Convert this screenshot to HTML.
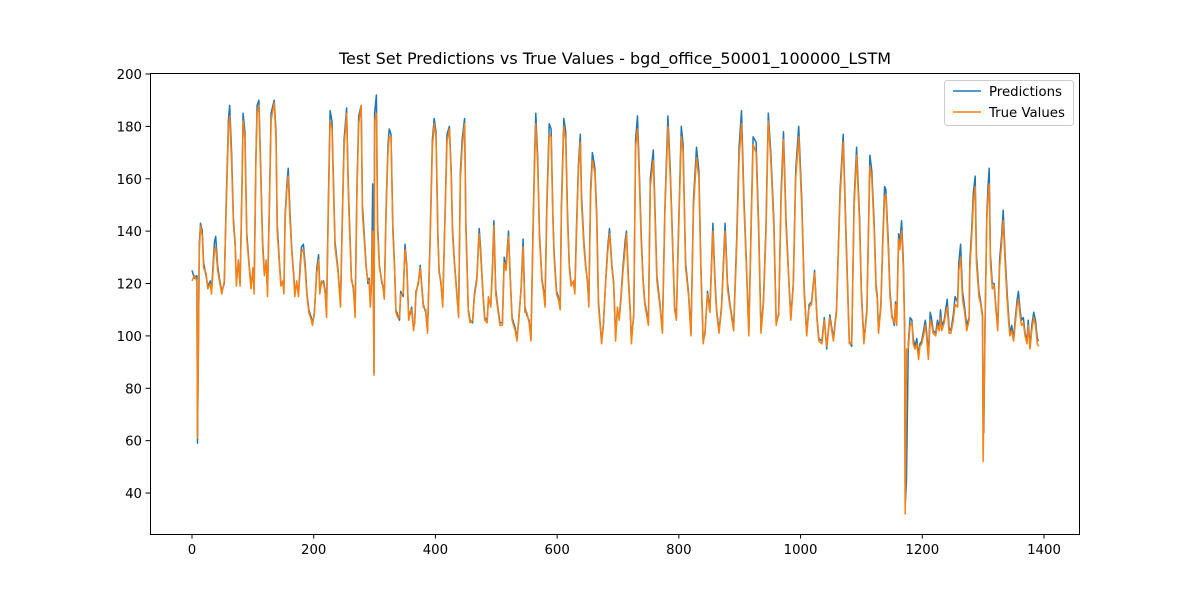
<!DOCTYPE html>
<html><head><meta charset="utf-8">
<style>
body{margin:0;background:#fff;font-family:"DejaVu Sans",sans-serif;}
svg text{font-family:"DejaVu Sans","Liberation Sans",sans-serif;}
</style></head>
<body>
<svg id="chart" width="1200" height="600" xmlns="http://www.w3.org/2000/svg">
<rect x="0" y="0" width="1200" height="600" fill="#fff"/>
<text x="615" y="64" font-size="16" text-anchor="middle" fill="#000">Test Set Predictions vs True Values - bgd_office_50001_100000_LSTM</text>
<g id="axes"></g>
<g id="series"></g>
<rect x="150.5" y="73.5" width="929" height="461" fill="none" stroke="#000" stroke-width="1"/>
<g>
<rect x="944.5" y="80.5" width="129" height="45" rx="3" fill="#fff" fill-opacity="0.8" stroke="#ccc"/>
<line x1="953" y1="91" x2="981" y2="91" stroke="#1f77b4" stroke-width="1.5"/>
<text x="989" y="96" font-size="13.3" fill="#000">Predictions</text>
<line x1="953" y1="112" x2="981" y2="112" stroke="#ff7f0e" stroke-width="1.5"/>
<text x="989" y="117" font-size="13.3" fill="#000">True Values</text>
</g>
</svg>
<script>
const xTicks=[0,200,400,600,800,1000,1200,1400];
const yTicks=[40,60,80,100,120,140,160,180,200];
const trueSeries=[[0,121],[4,123],[8,121],[9,61],[12,132],[14,142],[17,138],[19,126],[23,124],[26,118],[30,120],[32,116],[37,133],[39,134],[42,125],[45,121],[49,116],[53,121],[56,147],[60,179],[62,184],[65,166],[68,143],[71,134],[73,119],[76,129],[79,119],[82,154],[84,182],[87,175],[90,137],[94,126],[97,118],[100,126],[102,116],[105,166],[107,185],[110,188],[113,160],[116,134],[119,123],[122,129],[124,115],[127,147],[130,182],[132,185],[135,189],[138,175],[140,140],[144,126],[146,119],[149,121],[151,116],[153,144],[156,156],[158,161],[161,144],[164,132],[167,123],[169,115],[172,121],[175,115],[178,126],[180,132],[183,133],[186,125],[189,115],[192,109],[196,106],[198,104],[201,109],[205,124],[208,129],[210,116],[213,121],[216,120],[219,116],[221,107],[224,147],[227,182],[230,179],[232,160],[235,134],[240,124],[244,111],[247,143],[250,172],[254,185],[257,153],[260,134],[262,121],[265,119],[268,107],[271,153],[274,181],[278,188],[280,147],[283,137],[286,126],[289,121],[291,121],[293,111],[295,121],[297,140],[299,85],[300,182],[303,185],[305,140],[308,126],[312,121],[314,118],[316,114],[319,147],[322,170],[324,176],[327,176],[330,140],[333,124],[335,109],[338,107],[341,107],[343,116],[347,116],[350,133],[353,126],[356,106],[358,109],[361,110],[364,102],[366,106],[368,116],[372,121],[375,126],
[380,111],[384,110],[387,101],[391,134],[395,172],[398,181],[401,176],[404,137],[406,124],[409,121],[412,111],[416,147],[419,174],[423,179],[426,160],[428,139],[431,128],[434,119],[438,107],[441,160],[444,172],[448,181],[450,140],[454,109],[457,105],[461,106],[464,115],[468,121],[472,139],[474,132],[478,116],[481,106],[485,105],[487,115],[491,111],[494,126],[496,142],[499,116],[502,111],[506,104],[510,104],[513,128],[516,125],[520,138],[523,121],[526,106],[531,102],[534,98],[537,107],[541,118],[544,134],[547,109],[550,109],[554,105],[557,98],[560,134],[563,166],[565,181],[568,165],[571,137],[575,121],[578,116],[580,111],[583,147],[587,177],[590,176],[593,144],[595,130],[599,116],[602,114],[605,110],[607,147],[611,180],[614,175],[617,144],[620,126],[623,119],[627,121],[629,116],[632,140],[635,163],[638,174],[640,151],[644,134],[647,126],[650,121],[652,111],[655,153],[658,167],[662,162],[665,144],[668,111],[670,106],[673,97],[676,105],[680,121],[683,132],[686,139],[690,126],[693,119],[696,98],[699,111],[702,106],[705,114],[708,124],[712,134],[714,139],[717,121],[720,109],[722,97],[726,109],[729,172],[732,179],[735,160],[738,137],[741,121],[744,112],
[750,104],[753,157],[758,167],[764,121],[769,111],[773,101],[777,147],[782,180],[786,160],[788,146],[793,110],[796,106],[799,134],[804,176],[807,170],[811,126],[816,115],[820,100],[824,149],[829,168],[833,160],[836,126],[840,97],[843,102],[847,116],[851,109],[856,140],[859,121],[862,109],[866,101],[870,110],[876,140],[880,118],[884,111],[890,102],[895,134],[899,168],[903,181],[907,149],[911,126],[915,100],[919,143],[922,173],[927,170],[931,140],[935,101],[939,112],[943,138],[947,182],[951,167],[956,142],[960,104],[964,109],[968,152],[972,175],[976,142],[980,124],[984,106],[988,119],[992,160],[997,176],[1002,149],[1006,116],[1010,100],[1014,111],[1018,112],[1023,124],[1027,106],[1030,98],[1035,97],[1039,106],[1043,96],[1048,107],[1054,98],[1059,109],[1065,153],[1070,174],[1075,134],[1080,97],[1084,97],[1088,149],[1092,169],[1097,142],[1100,115],[1104,97],[1109,109],
[1114,165],[1117,160],[1121,140],[1124,118],[1126,114],[1128,101],[1132,111],[1135,134],[1138,153],[1140,154],[1144,134],[1147,115],[1150,107],[1154,105],[1156,112],[1158,104],[1161,137],[1163,133],[1166,140],[1169,125],[1171,102],[1172,32],[1174,95],[1177,95],[1180,104],[1183,105],[1185,97],[1188,95],[1191,97],[1194,91],[1196,96],[1199,97],[1202,100],[1205,104],[1207,100],[1210,91],[1213,106],[1215,105],[1218,101],[1222,100],[1225,104],[1228,102],[1230,107],[1232,102],[1236,105],[1239,109],[1241,111],[1244,101],[1247,101],[1251,106],[1254,112],[1258,111],[1260,125],[1263,130],[1266,114],[1269,110],[1273,102],[1277,106],[1278,125],[1281,137],[1284,151],[1287,157],[1289,128],[1293,115],[1296,112],[1299,107],[1300,52],[1303,102],[1306,144],[1308,153],[1310,158],[1312,128],[1315,118],[1318,119],[1321,110],[1324,102],[1327,126],[1330,134],[1333,144],[1336,128],[1339,115],[1342,105],[1344,100],[1347,102],[1350,98],[1353,105],[1356,112],[1358,114],[1361,107],[1363,104],[1366,105],[1369,100],[1372,97],[1374,104],[1377,95],[1380,102],[1383,107],[1386,104],[1389,97],[1391,96]];
const predSeries=[[0,125],[4,122],[8,123],[9,59],[12,135],[14,143],[17,140],[19,128],[23,123],[26,119],[30,121],[32,117],[37,136],[39,138],[42,127],[45,122],[49,117],[53,120],[56,150],[60,183],[62,188],[65,170],[68,145],[71,135],[73,121],[76,128],[79,120],[82,156],[84,185],[87,178],[90,139],[94,127],[97,119],[100,125],[102,118],[105,168],[107,188],[110,190],[113,163],[116,136],[119,124],[122,128],[124,117],[127,149],[130,185],[132,187],[135,190],[138,178],[140,143],[144,127],[146,120],[149,120],[151,118],[153,146],[156,158],[158,164],[161,147],[164,133],[167,124],[169,117],[172,120],[175,116],[178,128],[180,134],[183,135],[186,127],[189,116],[192,110],[196,107],[198,105],[201,108],[205,126],[208,131],[210,118],[213,120],[216,121],[219,117],[221,108],[224,150],[227,186],[230,182],[232,163],[235,136],[240,125],[244,112],[247,145],[250,175],[254,187],[257,156],[260,136],[262,122],[265,118],[268,109],[271,156],[274,184],[278,188],[280,150],[283,139],[286,127],[289,120],[291,122],[293,112],[295,120],[297,158],[299,86],[300,185],[303,192],[305,143],[308,127],[312,120],[314,119],[316,115],[319,149],[322,173],[324,179],[327,177],[330,143],[333,125],[335,110],[338,108],[341,106],[343,117],[347,115],[350,135],[353,127],[356,107],[358,108],[361,111],[364,103],[366,105],[368,117],[372,120],[375,127],
[380,112],[384,109],[387,102],[391,136],[395,175],[398,183],[401,178],[404,139],[406,125],[409,120],[412,112],[416,149],[419,177],[423,180],[426,162],[428,141],[431,129],[434,120],[438,108],[441,163],[444,175],[448,183],[450,143],[454,110],[457,106],[461,105],[464,116],[468,122],[472,141],[474,134],[478,117],[481,107],[485,106],[487,114],[491,112],[494,128],[496,144],[499,118],[502,112],[506,105],[510,105],[513,130],[516,126],[520,140],[523,122],[526,107],[531,103],[534,99],[537,106],[541,119],[544,137],[547,111],[550,108],[554,106],[557,99],[560,137],[563,169],[565,185],[568,168],[571,139],[575,122],[578,117],[580,112],[583,150],[587,181],[590,179],[593,146],[595,132],[599,117],[602,115],[605,111],[607,150],[611,183],[614,178],[617,147],[620,127],[623,120],[627,120],[629,117],[632,143],[635,165],[638,177],[640,154],[644,136],[647,127],[650,120],[652,112],[655,156],[658,170],[662,164],[665,147],[668,113],[670,107],[673,98],[676,104],[680,122],[683,134],[686,141],[690,127],[693,120],[696,100],[699,110],[702,107],[705,115],[708,126],[712,137],[714,140],[717,123],[720,110],[722,99],[726,108],[729,175],[732,184],[735,163],[738,140],[741,122],[744,113],
[750,105],[753,160],[758,171],[764,123],[769,112],[773,102],[777,149],[782,184],[786,163],[788,148],[793,111],[796,107],[799,136],[804,180],[807,173],[811,128],[816,116],[820,101],[824,152],[829,172],[833,163],[836,128],[840,98],[843,101],[847,117],[851,110],[856,143],[859,123],[862,110],[866,102],[870,111],[876,143],[880,120],[884,112],[890,103],[895,137],[899,172],[903,186],[907,152],[911,128],[915,101],[919,146],[922,176],[927,174],[931,143],[935,102],[939,113],[943,141],[947,185],[951,170],[956,145],[960,105],[964,108],[968,155],[972,178],[976,145],[980,125],[984,107],[988,120],[992,163],[997,180],[1002,152],[1006,118],[1010,101],[1014,112],[1018,113],[1023,125],[1027,107],[1030,99],[1035,98],[1039,107],[1043,95],[1048,108],[1054,99],[1059,110],[1065,156],[1070,177],[1075,137],[1080,98],[1084,96],[1088,152],[1092,172],[1097,145],[1100,117],[1104,98],[1109,110],
[1114,169],[1117,163],[1121,143],[1124,120],[1126,115],[1128,102],[1132,112],[1135,136],[1138,157],[1140,156],[1144,137],[1147,117],[1150,108],[1154,104],[1156,113],[1158,105],[1161,139],[1163,135],[1166,144],[1169,128],[1171,104],[1172,35],[1174,45],[1177,97],[1180,107],[1183,106],[1185,99],[1188,96],[1191,99],[1194,92],[1196,97],[1199,98],[1202,102],[1205,106],[1207,102],[1210,93],[1213,109],[1215,107],[1218,102],[1222,101],[1225,106],[1228,103],[1230,110],[1232,104],[1236,106],[1239,111],[1241,114],[1244,103],[1247,102],[1251,108],[1254,115],[1258,113],[1260,128],[1263,135],[1266,117],[1269,112],[1273,104],[1277,107],[1278,128],[1281,140],[1284,155],[1287,161],[1289,131],[1293,117],[1296,113],[1299,108],[1300,70],[1301,63],[1303,104],[1306,146],[1308,157],[1310,164],[1312,131],[1315,120],[1318,120],[1321,111],[1324,103],[1327,129],[1330,137],[1333,148],[1336,131],[1339,118],[1342,107],[1344,101],[1347,104],[1350,99],[1353,107],[1356,114],[1358,117],[1361,109],[1363,106],[1366,107],[1369,101],[1372,98],[1374,106],[1377,96],[1380,104],[1383,109],[1386,106],[1389,99],[1391,98]];

const NS="http://www.w3.org/2000/svg";
function xS(i){return 192+i*852/1400;}
function yS(v){return 74+(200-v)*2.619;}
const axes=document.getElementById('axes');
xTicks.forEach(t=>{
  const x=xS(t);
  const l=document.createElementNS(NS,'line');
  l.setAttribute('x1',x);l.setAttribute('x2',x);l.setAttribute('y1',534);l.setAttribute('y2',538.5);
  l.setAttribute('stroke','#000');
  
  
  axes.appendChild(l);
  const tx=document.createElementNS(NS,'text');
  tx.setAttribute('x',x);tx.setAttribute('y',554);tx.setAttribute('font-size','13.3');tx.setAttribute('text-anchor','middle');
  tx.textContent=t;
  
  
  axes.appendChild(tx);
});
yTicks.forEach(t=>{
  const y=yS(t);
  const l=document.createElementNS(NS,'line');
  l.setAttribute('x1',145.5);l.setAttribute('x2',150);l.setAttribute('y1',y);l.setAttribute('y2',y);
  l.setAttribute('stroke','#000');
  
  
  axes.appendChild(l);
  const tx=document.createElementNS(NS,'text');
  tx.setAttribute('x',142);tx.setAttribute('y',y+5);tx.setAttribute('font-size','13.3');tx.setAttribute('text-anchor','end');
  tx.textContent=t;
  
  
  axes.appendChild(tx);
});
const g=document.getElementById('series');
function draw(data,color,name){
  const p=document.createElementNS(NS,'polyline');
  p.setAttribute('points',data.map(d=>xS(d[0]).toFixed(1)+','+yS(d[1]).toFixed(1)).join(' '));
  p.setAttribute('fill','none');p.setAttribute('stroke',color);p.setAttribute('stroke-width','1.5');
  p.setAttribute('stroke-linejoin','round');
  
  
  g.appendChild(p);
}
draw(predSeries,'#1f77b4','predictions-line');
draw(trueSeries,'#ff7f0e','true-values-line');
</script>
</body></html>
